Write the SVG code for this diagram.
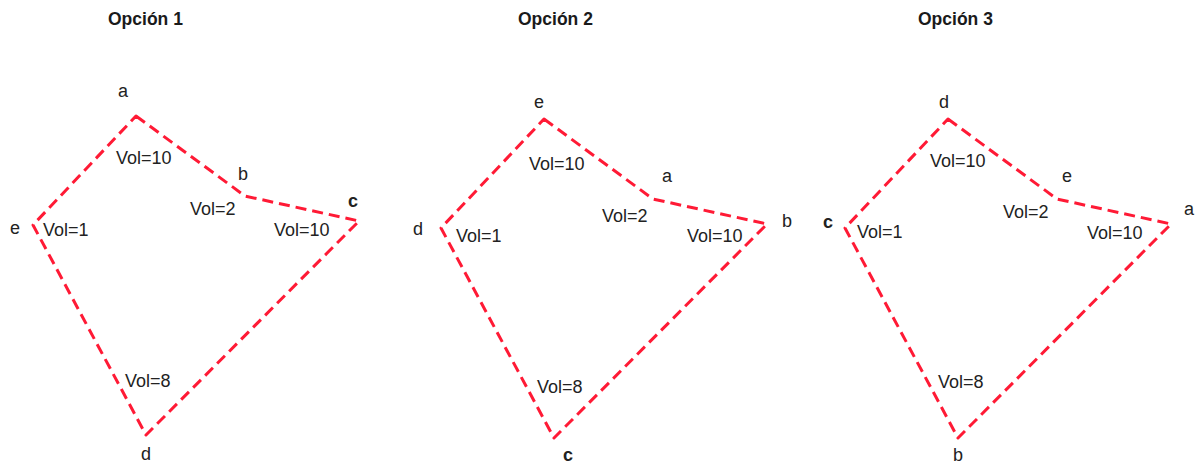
<svg xmlns="http://www.w3.org/2000/svg" width="1195" height="465" viewBox="0 0 1195 465">
<style>
.t{font-family:"Liberation Sans",Arial,sans-serif;font-size:17.5px;font-weight:bold;fill:#1a1a1a}
.v{font-family:"Liberation Sans",Arial,sans-serif;font-size:18px;fill:#222}
.n{font-family:"Liberation Sans",Arial,sans-serif;font-size:18px;fill:#222;text-anchor:middle}
.nb{font-weight:bold}
.e{fill:none;stroke:#ff1a35;stroke-width:3;stroke-dasharray:11 6;stroke-linejoin:round}
</style>
<rect width="1195" height="465" fill="#fff"/>
<g id="titles">
<text class="t" x="108" y="25">Opción 1</text>
<text class="t" x="518" y="25">Opción 2</text>
<text class="t" x="918" y="25">Opción 3</text>
</g>
<g id="connectors">
<path class="e" d="M136,116 L245,196 L359,221 L146,435 L33,225 Z"/>
<path class="e" d="M544,119 L653,199 L767,224 L554,438 L441,228 Z"/>
<path class="e" d="M948,119 L1057,199 L1171,224 L958,438 L845,228 Z"/>
<text class="v" x="116" y="164">Vol=10</text>
<text class="v" x="190" y="215">Vol=2</text>
<text class="v" x="274" y="236">Vol=10</text>
<text class="v" x="43" y="236">Vol=1</text>
<text class="v" x="125" y="387">Vol=8</text>
<text class="v" x="529" y="170">Vol=10</text>
<text class="v" x="602" y="222">Vol=2</text>
<text class="v" x="687" y="242">Vol=10</text>
<text class="v" x="456" y="242">Vol=1</text>
<text class="v" x="537" y="393">Vol=8</text>
<text class="v" x="930" y="167">Vol=10</text>
<text class="v" x="1003" y="218">Vol=2</text>
<text class="v" x="1087" y="239">Vol=10</text>
<text class="v" x="857" y="238">Vol=1</text>
<text class="v" x="938" y="388">Vol=8</text>
</g>
<g id="opt1-a"><text class="n" x="123" y="97">a</text></g>
<g id="opt1-b"><text class="n" x="243" y="180">b</text></g>
<g id="opt1-c"><text class="n nb" x="353" y="207">c</text></g>
<g id="opt1-d"><text class="n" x="146" y="460">d</text></g>
<g id="opt1-e"><text class="n" x="15" y="234">e</text></g>
<g id="opt2-e"><text class="n" x="539" y="108">e</text></g>
<g id="opt2-a"><text class="n" x="667" y="182">a</text></g>
<g id="opt2-b"><text class="n" x="787" y="227">b</text></g>
<g id="opt2-c"><text class="n nb" x="568" y="461">c</text></g>
<g id="opt2-d"><text class="n" x="418" y="235">d</text></g>
<g id="opt3-d"><text class="n" x="944" y="108">d</text></g>
<g id="opt3-e"><text class="n" x="1067" y="182">e</text></g>
<g id="opt3-a"><text class="n" x="1189" y="215">a</text></g>
<g id="opt3-b"><text class="n" x="958" y="461">b</text></g>
<g id="opt3-c"><text class="n nb" x="828" y="228">c</text></g>
</svg>
